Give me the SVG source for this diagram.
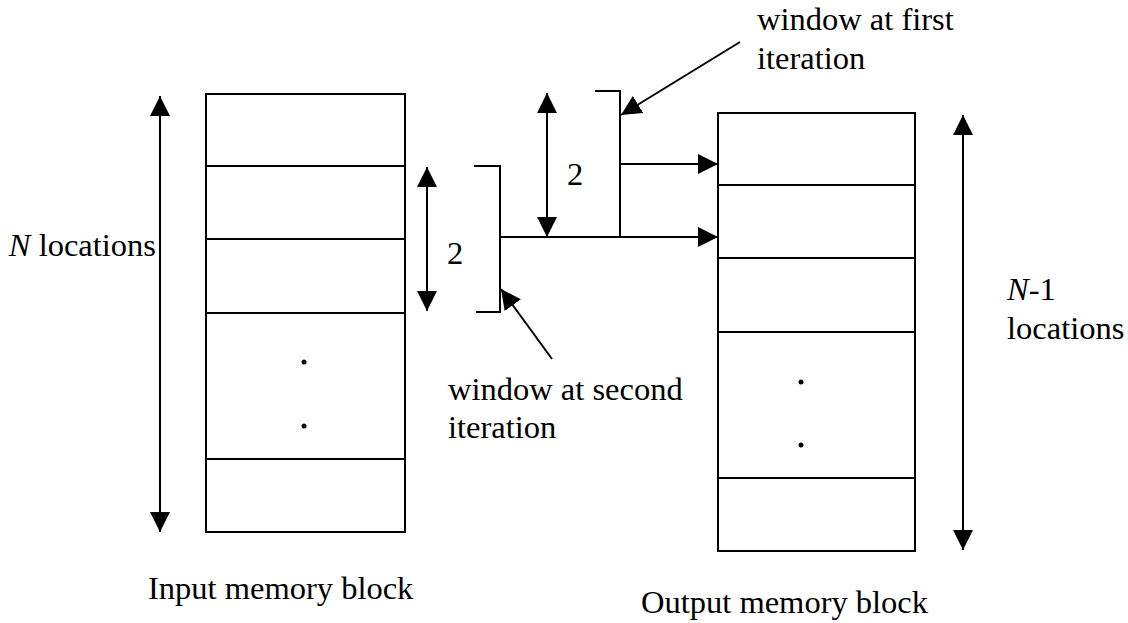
<svg xmlns="http://www.w3.org/2000/svg" width="1128" height="623" viewBox="0 0 1128 623">
<defs>
<marker id="ah" viewBox="0 0 20 20" refX="20" refY="10" markerWidth="20" markerHeight="20" markerUnits="userSpaceOnUse" orient="auto-start-reverse">
<path d="M0,0 L20,10 L0,20 z" fill="#000"/>
</marker>
<style>
.ln{stroke:#000;stroke-width:2;fill:none}
.bx{stroke:#000;stroke-width:2;fill:#fff}
.t{font-family:"Liberation Serif","Times New Roman",serif;font-size:32.5px;fill:#000}
.i{font-style:italic}
</style>
</defs>
<rect width="1128" height="623" fill="#fff"/>
<g id="input-block">
<rect class="bx" x="206" y="94" width="199" height="438"/>
<path class="ln" d="M206,166H405M206,239H405M206,313H405M206,459H405"/>
<circle cx="304" cy="362" r="2.5"/>
<circle cx="304" cy="426" r="2.5"/>
<text class="t" x="148" y="599">Input memory block</text>
</g>
<g id="output-block">
<rect class="bx" x="718" y="113" width="197" height="438"/>
<path class="ln" d="M718,185H915M718,258H915M718,332H915M718,478H915"/>
<circle cx="801" cy="382" r="2.5"/>
<circle cx="801" cy="445" r="2.5"/>
<text class="t" x="641" y="613">Output memory block</text>
</g>
<g id="n-locations">
<text class="t" x="156" y="256" text-anchor="end"><tspan class="i">N</tspan> locations</text>
</g>
<g id="n1-locations">
<text class="t" x="1007" y="300"><tspan class="i">N</tspan>-1</text>
<text class="t" x="1007" y="339">locations</text>
</g>
<g id="window-second">
<path class="ln" d="M474,166H500V312H476"/>
<text class="t" x="448" y="400">window at second</text>
<text class="t" x="448" y="438">iteration</text>
</g>
<g id="window-first">
<path class="ln" d="M595,91H620V237"/>
<text class="t" x="757" y="30">window at first</text>
<text class="t" x="757" y="69">iteration</text>
</g>
<g id="labels">
<text class="t" x="455" y="264" text-anchor="middle">2</text>
<text class="t" x="575" y="185" text-anchor="middle">2</text>
</g>
<g id="connectors">
<line class="ln" x1="160" y1="96" x2="160" y2="532" marker-start="url(#ah)" marker-end="url(#ah)"/>
<line class="ln" x1="963" y1="115" x2="963" y2="550" marker-start="url(#ah)" marker-end="url(#ah)"/>
<line class="ln" x1="427" y1="167" x2="427" y2="311" marker-start="url(#ah)" marker-end="url(#ah)"/>
<line class="ln" x1="547" y1="93" x2="547" y2="237" marker-start="url(#ah)" marker-end="url(#ah)"/>
<line class="ln" x1="500" y1="237" x2="718" y2="237" marker-end="url(#ah)"/>
<line class="ln" x1="620" y1="164" x2="718" y2="164" marker-end="url(#ah)"/>
<line class="ln" x1="740" y1="42" x2="621" y2="115" marker-end="url(#ah)"/>
<line class="ln" x1="552" y1="359" x2="501" y2="289" marker-end="url(#ah)"/>
</g>
</svg>
